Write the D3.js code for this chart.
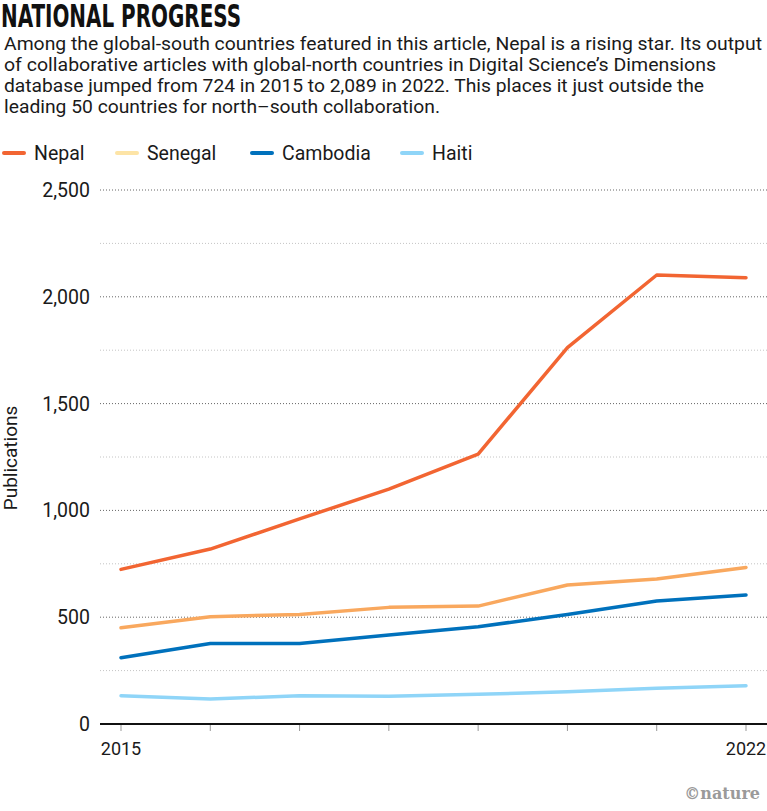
<!DOCTYPE html>
<html>
<head>
<meta charset="utf-8">
<script src="https://cdn.jsdelivr.net/npm/d3@7"></script>
<style>
  body { margin: 0; background: #fff; }
  svg text { font-family: Roboto, "Noto Sans", sans-serif; }
</style>
</head>
<body>
<svg id="chart"></svg>
<script>
var years = [2015, 2016, 2017, 2018, 2019, 2020, 2021, 2022];
var nepal = [724, 819, 960, 1100, 1264, 1762, 2102, 2089];
var senegal = [451, 502, 513, 546, 552, 651, 679, 733];
var cambodia = [310, 377, 377, 417, 455, 513, 576, 604];
var haiti = [132, 117, 132, 130, 139, 151, 167, 179];
var seriesNames = ['Nepal', 'Senegal', 'Cambodia', 'Haiti'];
var majorTicks = [0, 500, 1000, 1500, 2000, 2500];
var minorTicks = [250, 750, 1250, 1750, 2250];
var xLabels = [2015, 2022];

var $svg = {width: 767, height: 811};
var colors = {
    Nepal: '#f26532',
    Senegal: '#f9a85e',
    Cambodia: '#0071bc',
    Haiti: '#8fd5f8'
};
// the legend swatch for Senegal is paler than its line in the original
var legendColors = {
    Nepal: '#f26532',
    Senegal: '#fde4a6',
    Cambodia: '#0071bc',
    Haiti: '#8fd5f8'
};

var subtitle = [
    'Among the global-south countries featured in this article, Nepal is a rising star. Its output',
    'of collaborative articles with global-north countries in Digital Science\u2019s Dimensions',
    'database jumped from 724 in 2015 to 2,089 in 2022. This places it just outside the',
    'leading 50 countries for north\u2013south collaboration.'
];
var subtitleWidths = [758, 712, 700, 436];

function init () {
    var svg = (
        d3.select('svg#chart')
        .attr('width', $svg.width)
        .attr('height', $svg.height)
    );

    svg.append('text')
        .attr('x', 1).attr('y', 27)
        .attr('textLength', 240)
        .attr('lengthAdjust', 'spacingAndGlyphs')
        .style('font-family', '"Liberation Sans Narrow", "DejaVu Sans Condensed", sans-serif')
        .style('font-weight', 'bold')
        .style('font-size', '32px')
        .attr('fill', '#111')
        .text('NATIONAL PROGRESS');

    svg.selectAll('text.sub')
        .data(subtitle)
        .enter().append('text')
        .attr('class', 'sub')
        .attr('x', 4)
        .attr('y', (d, i) => 50 + i * 21)
        .attr('textLength', (d, i) => subtitleWidths[i])
        .attr('lengthAdjust', 'spacingAndGlyphs')
        .style('font-size', '17.5px')
        .attr('fill', '#1a1a1a')
        .text(d => d);

    makeLegend(svg);
    makeChart(svg);

    svg.append('text')
        .attr('x', 760).attr('y', 799)
        .attr('text-anchor', 'end')
        .style('font-family', '"DejaVu Serif", serif')
        .style('font-weight', 'bold')
        .style('font-size', '16px')
        .attr('fill', '#9a9a9a')
        .text('\u00a9nature');
}

function makeLegend (svg) {
    var xs = [2, 115, 250, 400];
    var g = svg.append('g').attr('transform', 'translate(0,153)');
    seriesNames.forEach((name, i) => {
        g.append('line')
            .attr('x1', xs[i] + 2).attr('x2', xs[i] + 22)
            .attr('y1', 0).attr('y2', 0)
            .attr('stroke', legendColors[name])
            .attr('stroke-width', 4)
            .attr('stroke-linecap', 'round');
        g.append('text')
            .attr('x', xs[i] + 32).attr('y', 7)
            .style('font-size', '19.5px')
            .attr('fill', '#1a1a1a')
            .text(name);
    });
}

function makeChart (svg) {
    var x = d3.scaleLinear().domain([2015, 2022]).range([121, 746]);
    var y = d3.scaleLinear().domain([0, 2500]).range([724, 190]);

    svg.append('g')
        .selectAll('line')
        .data(minorTicks)
        .enter().append('line')
        .attr('x1', 100).attr('x2', 767)
        .attr('y1', d => y(d)).attr('y2', d => y(d))
        .attr('stroke', '#c4c4c4')
        .attr('stroke-width', 1)
        .attr('stroke-dasharray', '1,2');

    svg.append('g')
        .selectAll('line')
        .data(majorTicks.filter(d => d > 0))
        .enter().append('line')
        .attr('x1', 100).attr('x2', 767)
        .attr('y1', d => y(d)).attr('y2', d => y(d))
        .attr('stroke', '#666')
        .attr('stroke-width', 1)
        .attr('stroke-dasharray', '1,2');

    svg.append('g')
        .selectAll('text')
        .data(majorTicks)
        .enter().append('text')
        .attr('x', 90)
        .attr('y', d => y(d) + 7)
        .attr('text-anchor', 'end')
        .style('font-size', '19.5px')
        .attr('fill', '#1a1a1a')
        .text(d => d3.format(',')(d));

    svg.append('text')
        .attr('transform', 'translate(17,458) rotate(-90)')
        .attr('text-anchor', 'middle')
        .style('font-size', '19px')
        .attr('fill', '#1a1a1a')
        .text('Publications');

    // x ticks
    svg.append('g')
        .selectAll('line')
        .data(years)
        .enter().append('line')
        .attr('x1', d => x(d)).attr('x2', d => x(d))
        .attr('y1', 724).attr('y2', 731)
        .attr('stroke', '#999')
        .attr('stroke-width', 1);

    svg.append('line')
        .attr('x1', 100).attr('x2', 767)
        .attr('y1', 724).attr('y2', 724)
        .attr('stroke', '#111')
        .attr('stroke-width', 2);

    svg.append('g')
        .selectAll('text')
        .data(xLabels)
        .enter().append('text')
        .attr('x', d => x(d))
        .attr('y', 755)
        .attr('text-anchor', 'middle')
        .style('font-size', '18px')
        .attr('fill', '#1a1a1a')
        .text(d => d);

    var line = d3.line()
        .x((d, i) => x(years[i]))
        .y(d => y(d));

    var data = {Nepal: nepal, Senegal: senegal, Cambodia: cambodia, Haiti: haiti};
    ['Haiti', 'Cambodia', 'Senegal', 'Nepal'].forEach((name) => {
        svg.append('path')
            .attr('d', line(data[name]))
            .attr('fill', 'none')
            .attr('stroke', colors[name])
            .attr('stroke-width', 3.5)
            .attr('stroke-linejoin', 'round')
            .attr('stroke-linecap', 'round');
    });
}

init();
</script>
</body>
</html>
